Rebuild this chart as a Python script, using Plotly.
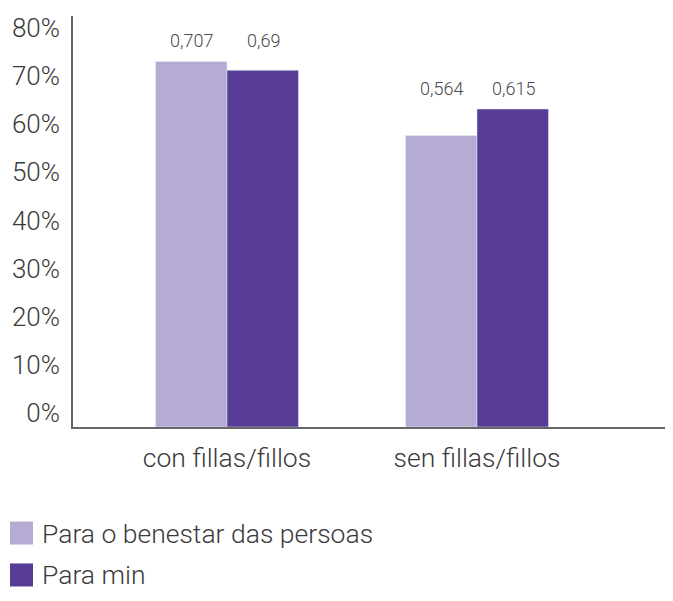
import plotly.graph_objects as go

categories = ["con fillas/fillos", "sen fillas/fillos"]
series_names = ["Para o benestar das persoas", "Para min"]
benestar = [0.707, 0.564]
para_min = [0.69, 0.615]
series_values = [benestar, para_min]
colors = ["#B6ABD3", "#573D96"]
tick_vals = [0, 0.1, 0.2, 0.3, 0.4, 0.5, 0.6, 0.7, 0.8]
tick_text = ["0%", "10%", "20%", "30%", "40%", "50%", "60%", "70%", "80%"]

FONT = "Roboto"
TXT = "#3a3a3a"

fig = go.Figure()
for name, vals, col in zip(series_names, series_values, colors):
    fig.add_trace(go.Bar(x=categories, y=vals, name=name, marker_color=col,
                         showlegend=False, hoverinfo="skip"))

# invisible trace so the label axis is drawn
fig.add_trace(go.Scatter(x=categories, y=[0, 0], yaxis="y2", mode="markers",
                         marker=dict(opacity=0), showlegend=False, hoverinfo="skip"))

# value labels, aligned per group above the taller bar
for i, cat in enumerate(categories):
    top = max(v[i] for v in series_values)
    for j, vals in enumerate(series_values):
        fig.add_annotation(x=cat, y=top, text=str(vals[i]).replace(".", ","),
                           showarrow=False, yanchor="bottom", yshift=8,
                           xshift=(-36 if j == 0 else 36),
                           font=dict(family=FONT, size=18, color="#4a4a4a", weight=300))

# legend drawn by hand so the swatches are as large as in the original
legend_y = [-0.258, -0.36]
for name, col, ly in zip(series_names, colors, legend_y):
    fig.add_shape(type="rect", xref="paper", yref="paper",
                  x0=-0.1064, x1=-0.0676, y0=ly - 0.028, y1=ly + 0.028,
                  fillcolor=col, line_width=0)
    fig.add_annotation(x=-0.0557, y=ly, xref="paper", yref="paper", text=name,
                       showarrow=False, xanchor="left", yanchor="middle",
                       font=dict(family=FONT, size=26.5, color=TXT, weight=300))

fig.update_layout(
    width=657, height=585,
    margin=dict(t=8, b=166, l=65, r=0),
    plot_bgcolor="white", paper_bgcolor="white",
    barmode="group", bargap=0.428, bargroupgap=0,
    font=dict(family=FONT, size=26, color=TXT, weight=300),
    xaxis=dict(range=[-0.616, 1.752], showline=True, linecolor="#666", linewidth=1.5,
               showgrid=False, zeroline=False, ticks="", ticklabelstandoff=6,
               tickfont=dict(size=26.5, color=TXT, weight=300)),
    yaxis=dict(range=[0, 0.795], showline=True, linecolor="#666", linewidth=1.5,
               showgrid=False, zeroline=False, showticklabels=False, ticks=""),
    yaxis2=dict(overlaying="y", side="left", range=[-0.0291, 0.825],
                tickvals=tick_vals, ticktext=tick_text, showgrid=False,
                zeroline=False, showline=False, ticks="", ticklabelstandoff=12,
                tickfont=dict(size=26, color=TXT, weight=300)),
)

fig.write_html("out.html")
